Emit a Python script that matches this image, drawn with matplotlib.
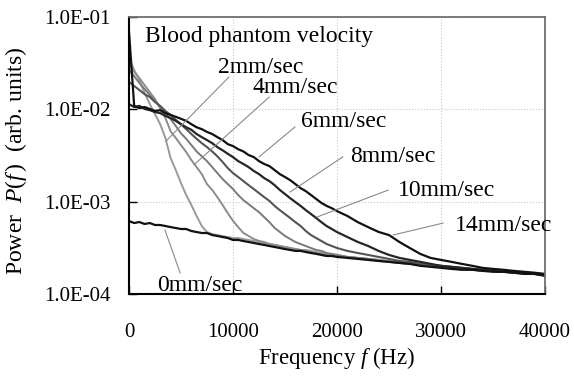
import matplotlib
matplotlib.use("Agg")
from matplotlib import pyplot as plt
from matplotlib.ticker import FixedLocator, FixedFormatter, NullLocator

plt.rcParams['font.family'] = ['Liberation Serif', 'DejaVu Serif']
plt.rcParams['mathtext.fontset'] = 'custom'
plt.rcParams['mathtext.rm'] = 'Liberation Serif'
plt.rcParams['mathtext.it'] = 'Liberation Serif:italic'

# frequency grid (Hz)
freq = [0, 500, 1000, 1500, 2000, 2500, 3000, 3500, 4000, 4500,
        5000, 5500, 6000, 6500, 7000, 7500, 8000, 8500, 9000, 9500,
        10000, 10500, 11000, 11500, 12000, 12500, 13000, 13500, 14000, 14500,
        15000, 15500, 16000, 16500, 17000, 17500, 18000, 18500, 19000, 19500,
        20000, 21000, 22000, 23000, 24000, 25000, 26000, 27000, 28000, 29000,
        30000, 31000, 32000, 33000, 34000, 35000, 36000, 37000, 38000, 39000,
        40000]

# power spectra P(f), one list per phantom velocity
p_0mm = [6.17e-4, 5.87e-4, 6.02e-4, 5.73e-4, 5.87e-4, 5.59e-4, 5.59e-4, 5.45e-4, 5.31e-4, 5.18e-4,
         5.06e-4, 5.06e-4, 4.81e-4, 4.69e-4, 4.58e-4, 4.58e-4, 4.35e-4, 4.25e-4, 4.14e-4, 4.04e-4,
         3.85e-4, 3.85e-4, 3.75e-4, 3.66e-4, 3.57e-4, 3.48e-4, 3.40e-4, 3.31e-4, 3.23e-4, 3.15e-4,
         3.07e-4, 3.00e-4, 2.93e-4, 2.93e-4, 2.85e-4, 2.78e-4, 2.72e-4, 2.65e-4, 2.58e-4, 2.58e-4,
         2.52e-4, 2.46e-4, 2.40e-4, 2.34e-4, 2.28e-4, 2.23e-4, 2.17e-4, 2.12e-4, 2.02e-4, 1.97e-4,
         1.92e-4, 1.87e-4, 1.83e-4, 1.83e-4, 1.78e-4, 1.74e-4, 1.74e-4, 1.70e-4, 1.65e-4, 1.65e-4,
         1.57e-4]
p_2mm = [3.60e-2, 2.67e-2, 2.08e-2, 1.50e-2, 1.14e-2, 8.9e-3, 6.9e-3, 4.9e-3, 2.97e-3, 2.20e-3,
         1.59e-3, 1.18e-3, 9.2e-4, 7.0e-4, 5.45e-4, 4.69e-4, 4.46e-4, 4.35e-4, 4.25e-4, 4.14e-4,
         4.04e-4, 4.04e-4, 3.94e-4, 3.85e-4, 3.75e-4, 3.66e-4, 3.57e-4, 3.48e-4, 3.40e-4, 3.31e-4,
         3.23e-4, 3.15e-4, 3.07e-4, 3.00e-4, 3.00e-4, 2.93e-4, 2.85e-4, 2.78e-4, 2.72e-4, 2.65e-4,
         2.65e-4, 2.52e-4, 2.46e-4, 2.40e-4, 2.34e-4, 2.28e-4, 2.23e-4, 2.17e-4, 2.07e-4, 2.02e-4,
         1.97e-4, 1.92e-4, 1.87e-4, 1.83e-4, 1.78e-4, 1.78e-4, 1.74e-4, 1.70e-4, 1.70e-4, 1.65e-4,
         1.61e-4]
p_4mm = [3.10e-2, 2.54e-2, 2.18e-2, 1.83e-2, 1.54e-2, 1.29e-2, 1.03e-2, 8.05e-3, 5.8e-3, 4.9e-3,
         4.1e-3, 3.45e-3, 2.82e-3, 2.37e-3, 1.99e-3, 1.55e-3, 1.34e-3, 1.12e-3, 9.2e-4, 7.5e-4,
         6.2e-4, 5.3e-4, 4.58e-4, 4.25e-4, 3.94e-4, 3.75e-4, 3.66e-4, 3.48e-4, 3.40e-4, 3.31e-4,
         3.23e-4, 3.15e-4, 3.07e-4, 3.00e-4, 2.93e-4, 2.85e-4, 2.78e-4, 2.72e-4, 2.65e-4, 2.65e-4,
         2.58e-4, 2.52e-4, 2.46e-4, 2.40e-4, 2.34e-4, 2.23e-4, 2.17e-4, 2.12e-4, 2.07e-4, 2.02e-4,
         1.97e-4, 1.92e-4, 1.87e-4, 1.87e-4, 1.83e-4, 1.78e-4, 1.74e-4, 1.74e-4, 1.70e-4, 1.65e-4,
         1.61e-4]
p_6mm = [2.67e-2, 2.29e-2, 1.93e-2, 1.66e-2, 1.43e-2, 1.23e-2, 1.06e-2, 9.1e-3, 7.85e-3, 6.6e-3,
         5.5e-3, 4.8e-3, 4.1e-3, 3.5e-3, 3.1e-3, 2.75e-3, 2.37e-3, 2.04e-3, 1.76e-3, 1.55e-3,
         1.37e-3, 1.18e-3, 1.04e-3, 9.4e-4, 8.5e-4, 7.7e-4, 6.8e-4, 6.0e-4, 5.2e-4, 4.7e-4,
         4.25e-4, 3.94e-4, 3.66e-4, 3.48e-4, 3.31e-4, 3.15e-4, 3.00e-4, 2.93e-4, 2.78e-4, 2.72e-4,
         2.65e-4, 2.52e-4, 2.46e-4, 2.40e-4, 2.28e-4, 2.23e-4, 2.17e-4, 2.12e-4, 2.07e-4, 2.02e-4,
         1.97e-4, 1.92e-4, 1.87e-4, 1.83e-4, 1.78e-4, 1.78e-4, 1.74e-4, 1.70e-4, 1.65e-4, 1.65e-4,
         1.61e-4]
p_8mm = [1.98e-2, 1.79e-2, 1.62e-2, 1.46e-2, 1.36e-2, 1.20e-2, 1.09e-2, 9.6e-3, 8.7e-3, 7.7e-3,
         6.9e-3, 6.1e-3, 5.4e-3, 4.8e-3, 4.3e-3, 3.9e-3, 3.5e-3, 3.1e-3, 2.69e-3, 2.31e-3,
         2.04e-3, 1.85e-3, 1.67e-3, 1.51e-3, 1.37e-3, 1.24e-3, 1.12e-3, 1.02e-3, 9.0e-4, 8.1e-4,
         7.35e-4, 6.65e-4, 6.0e-4, 5.45e-4, 4.81e-4, 4.35e-4, 4.04e-4, 3.75e-4, 3.48e-4, 3.31e-4,
         3.15e-4, 2.93e-4, 2.78e-4, 2.65e-4, 2.52e-4, 2.40e-4, 2.28e-4, 2.23e-4, 2.12e-4, 2.07e-4,
         2.02e-4, 1.97e-4, 1.92e-4, 1.87e-4, 1.83e-4, 1.78e-4, 1.74e-4, 1.70e-4, 1.70e-4, 1.65e-4,
         1.61e-4]
p_10mm = [1.14e-2, 1.06e-2, 1.09e-2, 1.01e-2, 9.8e-3, 9.35e-3, 9.1e-3, 8.5e-3, 8.05e-3, 7.5e-3,
          6.9e-3, 6.4e-3, 6.0e-3, 5.4e-3, 5.0e-3, 4.65e-3, 4.3e-3, 3.9e-3, 3.6e-3, 3.3e-3,
          3.04e-3, 2.75e-3, 2.56e-3, 2.37e-3, 2.15e-3, 1.99e-3, 1.80e-3, 1.67e-3, 1.51e-3, 1.34e-3,
          1.21e-3, 1.09e-3, 9.9e-4, 9.0e-4, 8.1e-4, 7.35e-4, 6.65e-4, 6.0e-4, 5.45e-4, 5.06e-4,
          4.69e-4, 4.14e-4, 3.66e-4, 3.31e-4, 2.93e-4, 2.65e-4, 2.46e-4, 2.34e-4, 2.23e-4, 2.12e-4,
          2.02e-4, 1.97e-4, 1.92e-4, 1.87e-4, 1.83e-4, 1.78e-4, 1.74e-4, 1.74e-4, 1.70e-4, 1.65e-4,
          1.61e-4]
p_14mm = [7.0e-2, 1.09e-2, 1.03e-2, 1.06e-2, 1.01e-2, 9.6e-3, 9.8e-3, 9.1e-3, 8.7e-3, 8.3e-3,
          7.9e-3, 7.5e-3, 6.9e-3, 6.4e-3, 6.1e-3, 5.7e-3, 5.4e-3, 5.0e-3, 4.65e-3, 4.2e-3,
          4.0e-3, 3.7e-3, 3.5e-3, 3.2e-3, 3.04e-3, 2.75e-3, 2.56e-3, 2.43e-3, 2.2e-3, 1.99e-3,
          1.85e-3, 1.71e-3, 1.55e-3, 1.40e-3, 1.30e-3, 1.18e-3, 1.07e-3, 9.7e-4, 9.0e-4, 8.5e-4,
          7.9e-4, 7.0e-4, 6.0e-4, 5.3e-4, 4.7e-4, 4.35e-4, 3.66e-4, 3.15e-4, 2.72e-4, 2.46e-4,
          2.34e-4, 2.23e-4, 2.12e-4, 2.02e-4, 1.92e-4, 1.87e-4, 1.83e-4, 1.78e-4, 1.74e-4, 1.70e-4,
          1.65e-4]

x_ticks = [0, 10000, 20000, 30000, 40000]
x_labels = ['0', '10000', '20000', '30000', '40000']
y_ticks = [1e-4, 1e-3, 1e-2, 1e-1]
y_labels = ['1.0E-04', '1.0E-03', '1.0E-02', '1.0E-01']

fig = plt.figure(figsize=(5.74, 3.78), dpi=100)
ax = fig.add_axes([0.2247, 0.2222, 0.7248, 0.7328])

# gray curves first, black ones on top
ax.plot(freq, p_2mm, color='#9a9a9a', lw=1.4)
ax.plot(freq, p_4mm, color='#8c8c8c', lw=1.4)
ax.plot(freq, p_6mm, color='#7a7a7a', lw=1.4)
ax.plot(freq, p_8mm, color='#555555', lw=1.5)
ax.plot(freq, p_10mm, color='#262626', lw=1.6)
ax.plot(freq, p_14mm, color='#111111', lw=1.6)
ax.plot(freq, p_0mm, color='#111111', lw=1.6)

ax.set_yscale('log')
ax.set_xlim(0, 40000)
ax.set_ylim(1e-4, 1e-1)
ax.xaxis.set_major_locator(FixedLocator(x_ticks))
ax.xaxis.set_major_formatter(FixedFormatter(x_labels))
ax.yaxis.set_major_locator(FixedLocator(y_ticks))
ax.yaxis.set_major_formatter(FixedFormatter(y_labels))
ax.yaxis.set_minor_locator(NullLocator())
ax.tick_params(axis='both', direction='in', length=6, width=1, labelsize=15)
ax.tick_params(axis='x', pad=21)
ax.tick_params(axis='y', pad=13)
ax.grid(True, color='#c8c8c8', linestyle=':', linewidth=0.8)

for side in ['left', 'bottom']:
    ax.spines[side].set_color('black')
    ax.spines[side].set_linewidth(1.5)
for side in ['top', 'right']:
    ax.spines[side].set_color('#707070')
    ax.spines[side].set_linewidth(1.3)

ax.set_xlabel('Frequency $f$ (Hz)', fontsize=16.5)
ax.set_ylabel('Power  $P(f\\,)$  (arb. units)', fontsize=17)
ax.xaxis.set_label_coords(0.5, -0.185)
ax.yaxis.set_label_coords(-0.24, 0.48)

ax.text(0.038, 0.928, 'Blood phantom velocity', transform=ax.transAxes,
        fontsize=17, va='center', ha='left')

# velocity labels with pointer lines (axes fraction coords)
labels = [
    ('2mm/sec', (0.214, 0.819), (0.240, 0.783), (0.089, 0.552)),
    ('4mm/sec', (0.298, 0.747), (0.337, 0.711), (0.156, 0.466)),
    ('6mm/sec', (0.413, 0.621), (0.399, 0.603), (0.3125, 0.495)),
    ('8mm/sec', (0.531, 0.495), (0.514, 0.495), (0.387, 0.368)),
    ('10mm/sec', (0.647, 0.375), (0.623, 0.375), (0.452, 0.278)),
    ('14mm/sec', (0.784, 0.249), (0.755, 0.256), (0.635, 0.213)),
    ('0mm/sec', (0.067, 0.032), (0.123, 0.076), (0.0865, 0.231)),
]
for text, tpos, start, end in labels:
    ax.text(tpos[0], tpos[1], text, transform=ax.transAxes, fontsize=17,
            va='center', ha='left', clip_on=False)
    ax.plot([start[0], end[0]], [start[1], end[1]], transform=ax.transAxes,
            color='#8a8a8a', lw=0.8)

fig.savefig('out.png', dpi=100)
